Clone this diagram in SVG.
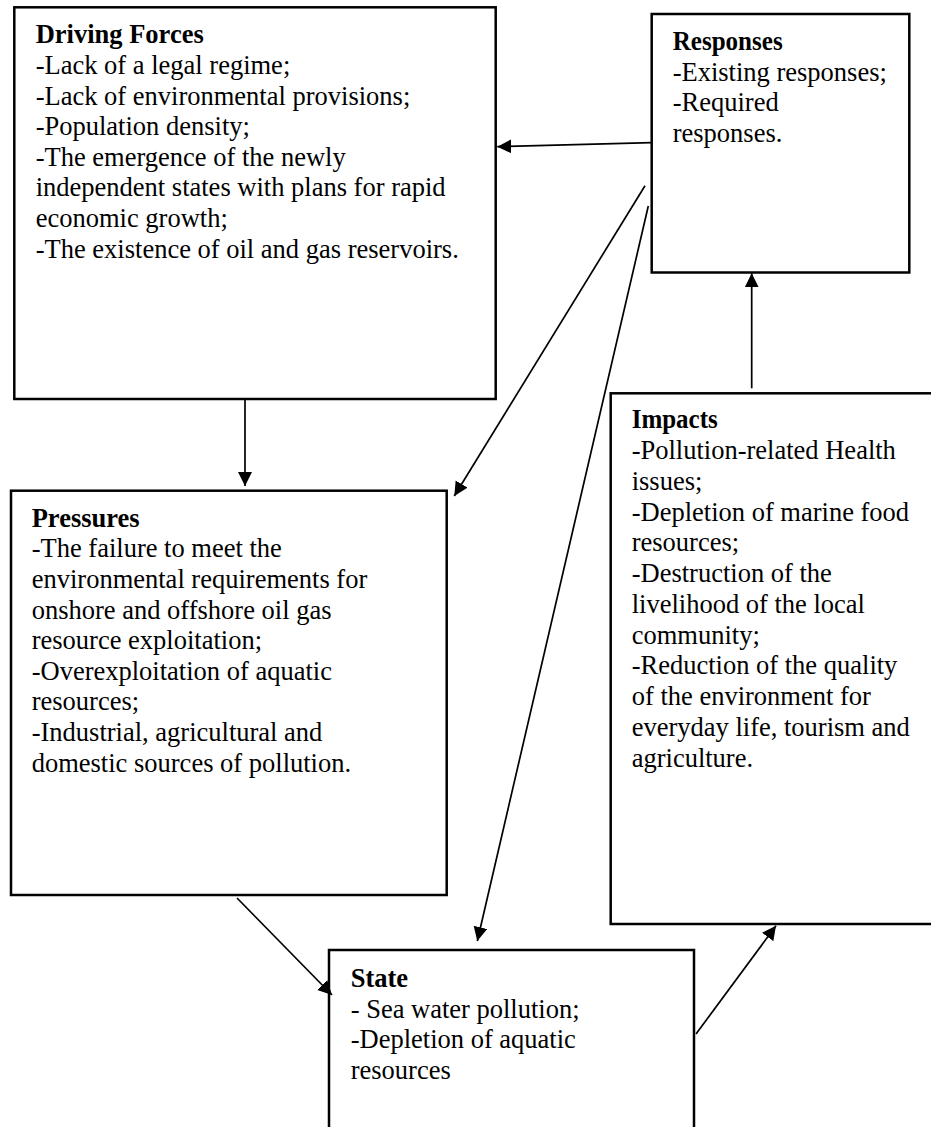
<svg xmlns="http://www.w3.org/2000/svg" width="931" height="1127" viewBox="0 0 931 1127">
<style>
.box{fill:#fff;stroke:#000;stroke-width:2.5}
.t{font-family:"Liberation Serif","Times New Roman",serif;font-size:26.5px;fill:#000}
.h{font-weight:bold}
.c{stroke:#000;stroke-width:1.7;fill:none;marker-end:url(#ah)}
</style>
<defs>
<marker id="ah" markerUnits="userSpaceOnUse" markerWidth="15" markerHeight="15" refX="14" refY="7" orient="auto">
<path d="M0,0 L14,7 L0,14 z" fill="#000"/>
</marker>
</defs>
<rect width="931" height="1127" fill="#fff"/>
<g id="driving-forces">
<rect class="box" x="14.3" y="7.3" width="481.4" height="391.7"/>
<text class="t h" x="35.7" y="43.3">Driving Forces</text>
<text class="t" x="35.7" y="73.9">-Lack of a legal regime;</text>
<text class="t" x="35.7" y="104.5">-Lack of environmental provisions;</text>
<text class="t" x="35.7" y="135.1">-Population density;</text>
<text class="t" x="35.7" y="165.7">-The emergence of the newly</text>
<text class="t" x="35.7" y="196.3">independent states with plans for rapid</text>
<text class="t" x="35.7" y="226.9">economic growth;</text>
<text class="t" x="35.7" y="257.5">-The existence of oil and gas reservoirs.</text>
</g>
<g id="responses">
<rect class="box" x="651.7" y="14" width="257.6" height="258.5"/>
<text class="t h" x="672.7" y="50" textLength="110" lengthAdjust="spacingAndGlyphs">Responses</text>
<text class="t" x="672.7" y="80.5">-Existing responses;</text>
<text class="t" x="672.7" y="111">-Required</text>
<text class="t" x="672.7" y="141.5">responses.</text>
</g>
<g id="pressures">
<rect class="box" x="11" y="490.7" width="435.7" height="404.3"/>
<text class="t h" x="31.7" y="526.7">Pressures</text>
<text class="t" x="31.7" y="557.3">-The failure to meet the</text>
<text class="t" x="31.7" y="587.9">environmental requirements for</text>
<text class="t" x="31.7" y="618.5">onshore and offshore oil gas</text>
<text class="t" x="31.7" y="649.1">resource exploitation;</text>
<text class="t" x="31.7" y="679.7">-Overexploitation of aquatic</text>
<text class="t" x="31.7" y="710.3">resources;</text>
<text class="t" x="31.7" y="740.9">-Industrial, agricultural and</text>
<text class="t" x="31.7" y="771.5">domestic sources of pollution.</text>
</g>
<g id="impacts">
<rect class="box" x="610.7" y="393.3" width="330" height="530.7"/>
<text class="t h" x="631.7" y="428.3" textLength="86" lengthAdjust="spacingAndGlyphs">Impacts</text>
<text class="t" x="631.7" y="459">-Pollution-related Health</text>
<text class="t" x="631.7" y="489.8">issues;</text>
<text class="t" x="631.7" y="520.5">-Depletion of marine food</text>
<text class="t" x="631.7" y="551.3">resources;</text>
<text class="t" x="631.7" y="582">-Destruction of the</text>
<text class="t" x="631.7" y="612.8">livelihood of the local</text>
<text class="t" x="631.7" y="643.5">community;</text>
<text class="t" x="631.7" y="674.3">-Reduction of the quality</text>
<text class="t" x="631.7" y="705">of the environment for</text>
<text class="t" x="631.7" y="735.8">everyday life, tourism and</text>
<text class="t" x="631.7" y="766.5">agriculture.</text>
</g>
<g id="state">
<rect class="box" x="329" y="950" width="365" height="190"/>
<text class="t h" x="350.7" y="987">State</text>
<text class="t" x="350.7" y="1017.5">- Sea water pollution;</text>
<text class="t" x="350.7" y="1048">-Depletion of aquatic</text>
<text class="t" x="350.7" y="1078.5">resources</text>
</g>
<g id="connectors">
<line class="c" x1="651.7" y1="142.7" x2="497.3" y2="146.7"/>
<line class="c" x1="645" y1="185.7" x2="454.3" y2="496"/>
<line class="c" x1="648.3" y1="206" x2="477.3" y2="941"/>
<line class="c" x1="245" y1="399" x2="245" y2="486"/>
<line class="c" x1="237" y1="898" x2="332" y2="995"/>
<line class="c" x1="696" y1="1034" x2="776" y2="925.7"/>
<line class="c" x1="751.7" y1="388.3" x2="751.7" y2="273.3"/>
</g>
</svg>
